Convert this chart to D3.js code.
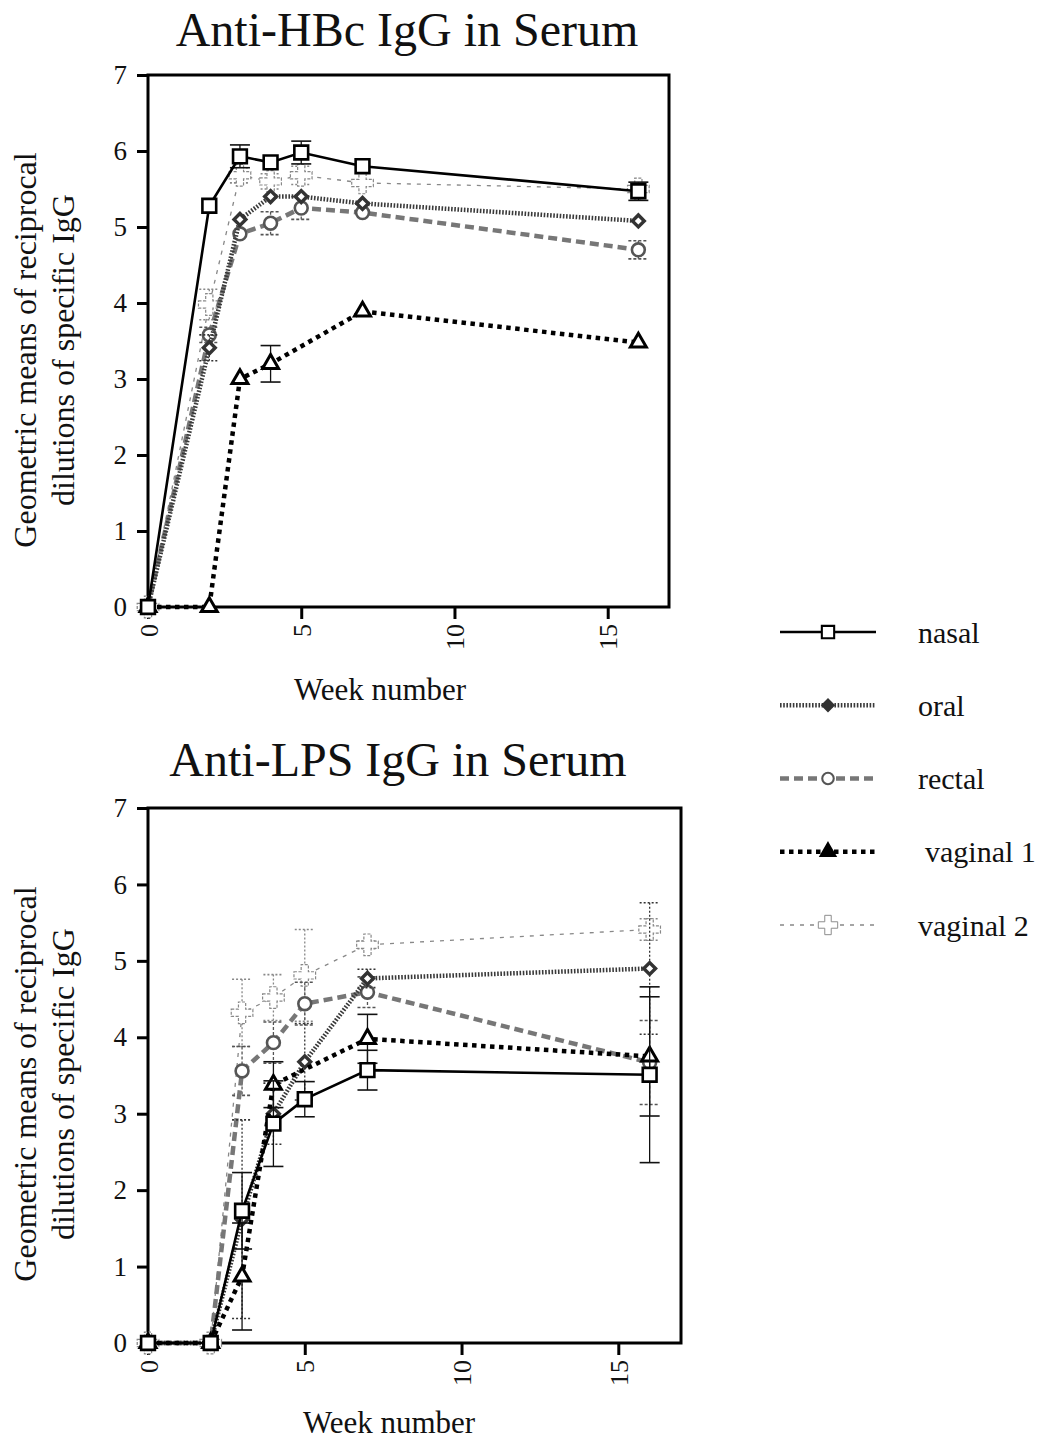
<!DOCTYPE html>
<html>
<head>
<meta charset="utf-8">
<script src="https://cdn.jsdelivr.net/npm/d3@7"></script>
<style>
  body { margin: 0; background: #fff; }
  svg { display: block; }
  text { font-family: "Liberation Serif", "Times New Roman", serif; fill: #111; }
</style>
</head>
<body>
<svg id="chart" width="1040" height="1440"></svg>
<script>
// weeks sampled (same for both panels)
const weeks = [0, 2, 3, 4, 5, 7, 16]
const yTicks = [0, 1, 2, 3, 4, 5, 6, 7]
const xTicks = [0, 5, 10, 15]
const seriesNames = ['nasal', 'oral', 'rectal', 'vaginal 1', 'vaginal 2']

// Anti-HBc IgG (top panel), null = no measurement
const hbcNasal = [0, 5.28, 5.93, 5.85, 5.98, 5.8, 5.47]
const hbcOral = [0, 3.41, 5.1, 5.4, 5.4, 5.31, 5.08]
const hbcRectal = [0, 3.58, 4.91, 5.05, 5.25, 5.19, 4.7]
const hbcVag1 = [0, 0, 3.0, 3.2, null, 3.89, 3.48]
const hbcVag2 = [0, 3.98, 5.68, 5.6, 5.68, 5.58, 5.5]
// error bars (+/-)
const hbcNasalErr = [0, 0, 0.15, 0, 0.15, 0, 0.12]
const hbcOralErr = [0, 0.17, 0, 0, 0, 0, 0]
const hbcRectalErr = [0, 0.1, 0, 0.15, 0.15, 0, 0.12]
const hbcVag1Err = [0, 0, 0, 0.24, 0, 0, 0]
const hbcVag2Err = [0, 0.2, 0.1, 0.1, 0.12, 0, 0]

// Anti-LPS IgG (bottom panel)
const lpsNasal = [0, 0, 1.73, 2.87, 3.19, 3.57, 3.51]
const lpsOral = [0, 0, 1.62, 3.0, 3.68, 4.77, 4.9]
const lpsRectal = [0, 0, 3.56, 3.93, 4.44, 4.59, 3.67]
const lpsVag1 = [0, 0, 0.87, 3.38, null, 3.98, 3.75]
const lpsVag2 = [0, 0, 4.32, 4.52, 4.81, 5.21, 5.41]
const lpsNasalErr = [0, 0, 0.5, 0.56, 0.23, 0.26, 1.15]
const lpsOralErr = [0, 0, 1.3, 0.4, 0.5, 0.12, 0.86]
const lpsRectalErr = [0, 0, 0.32, 0.27, 0.28, 0.2, 0.55]
const lpsVag1Err = [0, 0, 0.7, 0.3, 0, 0.32, 0.78]
const lpsVag2Err = [0, 0, 0.44, 0.3, 0.6, 0.05, 0.14]

const styles = {
  'nasal': { stroke: '#000', width: 2.6, dash: null, sym: d3.symbolSquare, size: 190, rot: 0, mStroke: '#000', mWidth: 2.6, eStroke: '#111', eDash: null },
  'oral': { stroke: '#3a3a3a', width: 4.5, dash: '1.6,1.6', sym: d3.symbolSquare, size: 70, rot: 45, mStroke: '#333', mWidth: 3.4, eStroke: '#333', eDash: '2,2' },
  'rectal': { stroke: '#777', width: 4.5, dash: '9,5', sym: d3.symbolCircle, size: 130, rot: 0, mStroke: '#555', mWidth: 2.6, eStroke: '#555', eDash: '3,2' },
  'vaginal 1': { stroke: '#000', width: 4.5, dash: '4.5,4.5', sym: d3.symbolTriangle, size: 110, rot: 0, mStroke: '#000', mWidth: 3, eStroke: '#111', eDash: null },
  'vaginal 2': { stroke: '#888', width: 1.3, dash: '4,6', sym: d3.symbolCross, size: 260, rot: 0, mStroke: '#888', mWidth: 1.2, eStroke: '#888', eDash: '2,2' }
}

const svg = d3.select('#chart')
const serif = '"Liberation Serif", "Times New Roman", serif'

const drawPanel = (opt) => {
  const x = d3.scaleLinear().domain([0, 17]).range([opt.left, opt.right])
  const y = d3.scaleLinear().domain([0, 7]).range([opt.bottom, opt.top])
  const g = svg.append('g')

  // title
  g.append('text')
    .attr('x', opt.titleX).attr('y', opt.titleY)
    .attr('text-anchor', 'middle')
    .style('font-size', '48px')
    .text(opt.title)

  // y axis
  const ya = g.append('g')
    .attr('transform', `translate(${opt.left},0)`)
    .call(d3.axisLeft(y).tickValues(yTicks).tickSize(11).tickPadding(10).tickFormat(d3.format('d')))
  ya.select('.domain').remove()
  ya.selectAll('.tick line').attr('stroke', '#000').attr('stroke-width', 3)
  ya.selectAll('.tick text').style('font-size', '27px').style('font-family', serif).attr('fill', '#111')

  // x axis (rotated labels)
  const xa = g.append('g')
    .attr('transform', `translate(0,${opt.bottom})`)
    .call(d3.axisBottom(x).tickValues(xTicks).tickSize(12).tickFormat(d3.format('d')))
  xa.select('.domain').remove()
  xa.selectAll('.tick line').attr('stroke', '#000').attr('stroke-width', 3)
  xa.selectAll('.tick text')
    .style('font-size', '26px').style('font-family', serif).attr('fill', '#111')
    .attr('transform', 'rotate(-90)')
    .attr('x', -17).attr('y', 0).attr('dy', '0.35em')
    .attr('text-anchor', 'end')

  // frame
  g.append('rect')
    .attr('x', opt.left).attr('y', opt.top)
    .attr('width', opt.right - opt.left).attr('height', opt.bottom - opt.top)
    .attr('fill', 'none').attr('stroke', '#000').attr('stroke-width', 3)

  // axis titles
  g.append('text')
    .attr('x', opt.xLabelX).attr('y', opt.xLabelY)
    .attr('text-anchor', 'middle')
    .style('font-size', '31px')
    .text('Week number')

  const yl = g.append('text')
    .attr('transform', `translate(${opt.yLabelX},${opt.yLabelY}) rotate(-90)`)
    .attr('text-anchor', 'middle')
    .style('font-size', '32px')
  yl.append('tspan').attr('x', 0).attr('dy', 0).text('Geometric means of reciprocal')
  yl.append('tspan').attr('x', 0).attr('dy', 38).text('dilutions of specific IgG')

  // series, drawn back to front
  const order = ['vaginal 2', 'rectal', 'oral', 'vaginal 1', 'nasal']
  const line = d3.line()
    .defined(d => d.v !== null)
    .x(d => x(d.w)).y(d => y(d.v))

  order.forEach(name => {
    const s = styles[name]
    const pts = weeks.map((w, i) => ({ w: w, v: opt.values[name][i], e: opt.errors[name][i] }))
    const valid = pts.filter(d => d.v !== null)

    // error bars
    const eb = g.append('g')
    valid.filter(d => d.e > 0).forEach(d => {
      const cx = x(d.w)
      eb.append('line')
        .attr('x1', cx).attr('x2', cx).attr('y1', y(d.v + d.e)).attr('y2', y(d.v - d.e))
        .attr('stroke', s.eStroke).attr('stroke-width', 1.3).attr('stroke-dasharray', s.eDash)
      ;[d.v + d.e, d.v - d.e].forEach(v => {
        eb.append('line')
          .attr('x1', cx - 10).attr('x2', cx + 10).attr('y1', y(v)).attr('y2', y(v))
          .attr('stroke', s.eStroke).attr('stroke-width', 1.6).attr('stroke-dasharray', s.eDash)
      })
    })

    g.append('path')
      .datum(valid)
      .attr('d', line)
      .attr('fill', 'none')
      .attr('stroke', s.stroke)
      .attr('stroke-width', s.width)
      .attr('stroke-dasharray', s.dash)

    g.append('g').selectAll('path')
      .data(valid)
      .join('path')
      .attr('transform', d => `translate(${x(d.w)},${y(d.v)}) rotate(${s.rot})`)
      .attr('d', d3.symbol().type(s.sym).size(s.size))
      .attr('fill', '#fff')
      .attr('stroke', s.mStroke)
      .attr('stroke-width', s.mWidth)
      .attr('stroke-dasharray', name === 'vaginal 2' ? '3,1.5' : null)
  })
}

drawPanel({
  title: 'Anti-HBc IgG in Serum', titleX: 407, titleY: 46,
  left: 148, right: 669, top: 75, bottom: 607,
  xLabelX: 380, xLabelY: 700, yLabelX: 36, yLabelY: 350,
  values: { 'nasal': hbcNasal, 'oral': hbcOral, 'rectal': hbcRectal, 'vaginal 1': hbcVag1, 'vaginal 2': hbcVag2 },
  errors: { 'nasal': hbcNasalErr, 'oral': hbcOralErr, 'rectal': hbcRectalErr, 'vaginal 1': hbcVag1Err, 'vaginal 2': hbcVag2Err }
})

drawPanel({
  title: 'Anti-LPS IgG in Serum', titleX: 398, titleY: 776,
  left: 148, right: 681, top: 808, bottom: 1343,
  xLabelX: 389, xLabelY: 1433, yLabelX: 36, yLabelY: 1084,
  values: { 'nasal': lpsNasal, 'oral': lpsOral, 'rectal': lpsRectal, 'vaginal 1': lpsVag1, 'vaginal 2': lpsVag2 },
  errors: { 'nasal': lpsNasalErr, 'oral': lpsOralErr, 'rectal': lpsRectalErr, 'vaginal 1': lpsVag1Err, 'vaginal 2': lpsVag2Err }
})

// legend
const legendY = d3.scalePoint().domain(seriesNames).range([632, 925])
const legend = svg.append('g')
seriesNames.forEach(name => {
  const s = styles[name]
  const ly = legendY(name)
  legend.append('line')
    .attr('x1', 780).attr('x2', 876).attr('y1', ly).attr('y2', ly)
    .attr('stroke', s.stroke).attr('stroke-width', s.width)
    .attr('stroke-dasharray', s.dash)
  legend.append('path')
    .attr('transform', `translate(828,${ly}) rotate(${s.rot})`)
    .attr('d', d3.symbol().type(s.sym).size(s.size * 0.8))
    .attr('fill', name === 'oral' || name === 'vaginal 1' ? s.mStroke : '#fff')
    .attr('stroke', s.mStroke).attr('stroke-width', s.mWidth * 0.8)
  legend.append('text')
    .attr('x', name === 'vaginal 1' ? 925 : 918).attr('y', ly)
    .attr('dy', '0.35em')
    .style('font-size', '30px')
    .text(name)
})
</script>
</body>
</html>
